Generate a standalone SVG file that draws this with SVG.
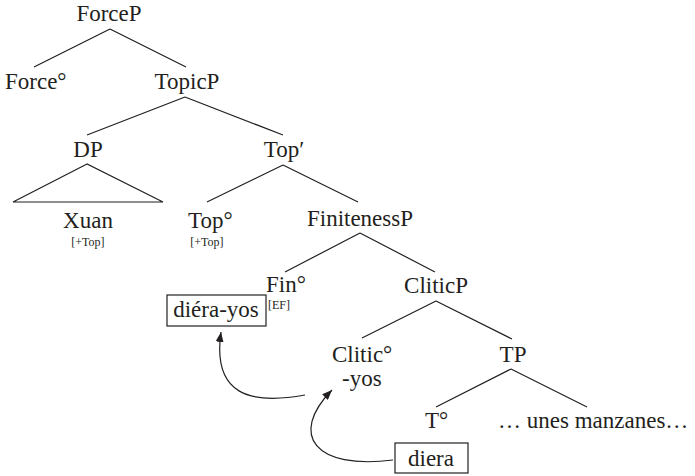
<svg xmlns="http://www.w3.org/2000/svg" width="695" height="476" viewBox="0 0 695 476">
  <style>
    text { font-family: "Liberation Serif", "Times New Roman", serif; fill: #231f20; font-size: 23px; }
    .c { text-anchor: middle; }
    .feat { font-size: 12px; }
    .branch { stroke: #231f20; stroke-width: 1.2; fill: none; }
    .box { stroke: #231f20; stroke-width: 1.2; fill: #ffffff; }
    .move { stroke: #231f20; stroke-width: 1.2; fill: none; marker-end: url(#head); }
  </style>
  <defs>
    <marker id="head" viewBox="0 0 10 8" refX="10" refY="4" markerWidth="10" markerHeight="8" markerUnits="userSpaceOnUse" orient="auto">
      <path d="M0,0 L10,4 L0,8 z" fill="#231f20"/>
    </marker>
  </defs>

  <!-- tree branches and movement arrows -->
  <g id="connectors">
    <path class="branch" d="M110,29 L34,67 M110,29 L186,67"/>
    <path class="branch" d="M185,97 L87,135 M185,97 L283,135"/>
    <path class="branch" d="M87,164 L13,202 L163,202 Z"/>
    <path class="branch" d="M283,165 L207,202 M283,165 L358,202"/>
    <path class="branch" d="M360,233 L285,272 M360,233 L435,272"/>
    <path class="branch" d="M436,301 L362,338 M436,301 L512,339"/>
    <path class="branch" d="M511,369 L436,407 M511,369 L587,407"/>
    <path class="move" d="M305,395 C250,405 212,395 221,332"/>
    <path class="move" d="M393,460 C315,470 288,435 332,390"/>
  </g>

  <g id="forceP"><text class="c" x="109" y="21">ForceP</text></g>
  <g id="force-head"><text x="5" y="89">Force°</text></g>
  <g id="topicP"><text class="c" x="187" y="89">TopicP</text></g>
  <g id="dp"><text class="c" x="88" y="157">DP</text></g>
  <g id="top-bar"><text class="c" x="284" y="157">Top′</text></g>
  <g id="xuan">
    <text class="c" x="88" y="228">Xuan</text>
    <text class="c feat" x="88" y="246">[+Top]</text>
  </g>
  <g id="top-head">
    <text x="188" y="228">Top°</text>
    <text class="c feat" x="207" y="246">[+Top]</text>
  </g>
  <g id="finitenessP"><text class="c" x="360" y="226">FinitenessP</text></g>
  <g id="fin-head">
    <text x="266" y="292">Fin°</text>
    <rect class="box" x="167" y="295" width="99" height="31"/>
    <text class="c" x="216" y="317">diéra-yos</text>
    <text class="feat" x="268" y="309">[EF]</text>
  </g>
  <g id="cliticP"><text class="c" x="436" y="293">CliticP</text></g>
  <g id="clitic-head">
    <text x="332" y="362">Clitic°</text>
    <text x="342" y="386">-yos</text>
  </g>
  <g id="tp"><text class="c" x="513" y="362">TP</text></g>
  <g id="t-head">
    <text x="425" y="428">T°</text>
    <rect class="box" x="395" y="443" width="73" height="30"/>
    <text class="c" x="431" y="466">diera</text>
  </g>
  <g id="complement"><text x="498" y="428">… unes manzanes…</text></g>
</svg>
